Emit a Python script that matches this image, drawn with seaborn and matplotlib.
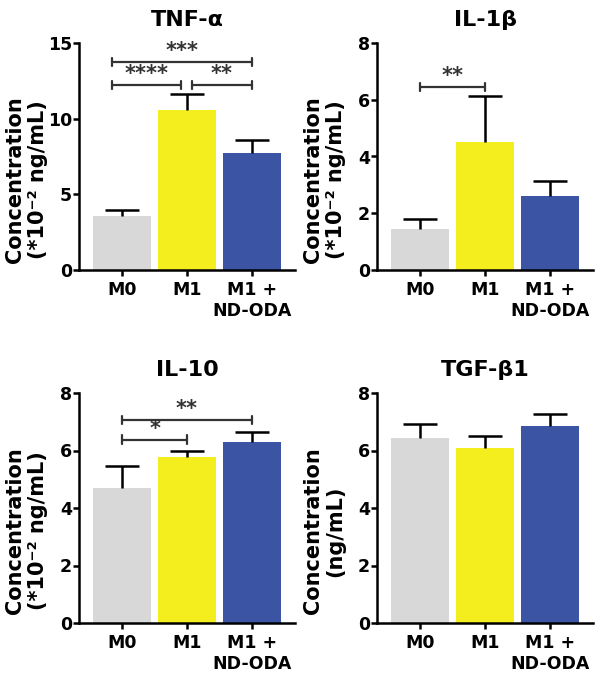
import numpy as np
import pandas as pd
import matplotlib
matplotlib.use("Agg")
import matplotlib.pyplot as plt
import seaborn as sns

# --------------------------------------------------
# DATA
# --------------------------------------------------
groups = ["M0", "M1", "M1 +\nND-ODA"]
colors = ["#d8d8d8", "#f4ee1e", "#3b55a4"]

tnf_mean = [3.6, 10.6, 7.75]
tnf_err = [0.37, 1.05, 0.82]

il1b_mean = [1.45, 4.5, 2.6]
il1b_err = [0.35, 1.62, 0.55]

il10_mean = [4.7, 5.77, 6.28]
il10_err = [0.77, 0.2, 0.36]

tgf_mean = [6.42, 6.1, 6.85]
tgf_err = [0.5, 0.41, 0.42]

# significance brackets: (x start, x end, height, label)
tnf_sig = [(-0.16, 0.9, 12.25, "****"), (1.08, 2.0, 12.25, "**"), (-0.16, 2.0, 13.75, "***")]
il1b_sig = [(0, 1, 6.45, "**")]
il10_sig = [(0, 1, 6.38, "*"), (0, 2, 7.07, "**")]
tgf_sig = []

ylabel_scaled = "Concentration\n(*10\u207b\u00b2 ng/mL)"
ylabel_plain = "Concentration\n(ng/mL)"

panels = [
    ("TNF-\u03b1", tnf_mean, tnf_err, tnf_sig, 15, [0, 5, 10, 15], ylabel_scaled),
    ("IL-1\u03b2", il1b_mean, il1b_err, il1b_sig, 8, [0, 2, 4, 6, 8], ylabel_scaled),
    ("IL-10", il10_mean, il10_err, il10_sig, 8, [0, 2, 4, 6, 8], ylabel_scaled),
    ("TGF-\u03b21", tgf_mean, tgf_err, tgf_sig, 8, [0, 2, 4, 6, 8], ylabel_plain),
]

# --------------------------------------------------
# STYLE
# --------------------------------------------------
sns.set_style("ticks")
plt.rcParams["font.family"] = ["DejaVu Sans"]
plt.rcParams["font.weight"] = "bold"
plt.rcParams["axes.linewidth"] = 1.8
plt.rcParams["text.color"] = "black"
plt.rcParams["axes.labelcolor"] = "black"
plt.rcParams["axes.edgecolor"] = "black"
plt.rcParams["xtick.color"] = "black"
plt.rcParams["ytick.color"] = "black"

fig = plt.figure(figsize=(6.01, 6.8), dpi=100)

W, H = 601, 680
boxes = [
    (79, 43, 216, 227),
    (377, 43, 216, 227),
    (79, 393, 216, 230),
    (377, 393, 216, 230),
]

for (title, mean, err, sig, ymax, yticks, ylab), (x0, y0, w, h) in zip(panels, boxes):
    ax = fig.add_axes([x0 / W, 1 - (y0 + h) / H, w / W, h / H])

    df = pd.DataFrame({"group": groups, "value": mean})
    sns.barplot(data=df, x="group", y="value", hue="group", palette=colors,
                width=0.9, linewidth=0, saturation=1, legend=False, ax=ax)

    # upper error bars only
    _, caps, _ = ax.errorbar(np.arange(len(groups)), mean,
                             yerr=[np.zeros(len(err)), err],
                             fmt="none", ecolor="black", elinewidth=1.8,
                             capsize=12, capthick=1.8, zorder=1)
    caps[0].remove()

    # significance brackets
    for xa, xb, yb, lab in sig:
        tick = ymax * 0.018
        ax.plot([xa, xb], [yb, yb], color="#333333", lw=1.6, solid_capstyle="butt")
        ax.plot([xa, xa], [yb - tick, yb + tick], color="#333333", lw=1.6)
        ax.plot([xb, xb], [yb - tick, yb + tick], color="#333333", lw=1.6)
        ax.text((xa + xb) / 2, yb + ymax * 0.004, lab, ha="center", va="bottom",
                fontsize=15, color="#333333", fontweight="bold")

    ax.set_xlim(-0.667, 2.667)
    ax.set_ylim(0, ymax)
    ax.set_yticks(yticks)
    ax.set_xlabel("")
    ax.set_ylabel(ylab, fontsize=15, fontweight="bold", linespacing=1.15)
    ax.yaxis.set_label_coords(-0.145, 0.40)
    ax.set_title(title, fontsize=16, fontweight="bold", pad=12)
    ax.tick_params(axis="both", width=1.8, length=4, labelsize=12.5)
    ax.tick_params(axis="y", pad=1)
    ax.tick_params(axis="x", pad=4)
    for lbl in ax.get_xticklabels() + ax.get_yticklabels():
        lbl.set_fontweight("bold")
    sns.despine(ax=ax)

plt.savefig("out.png", dpi=100)
